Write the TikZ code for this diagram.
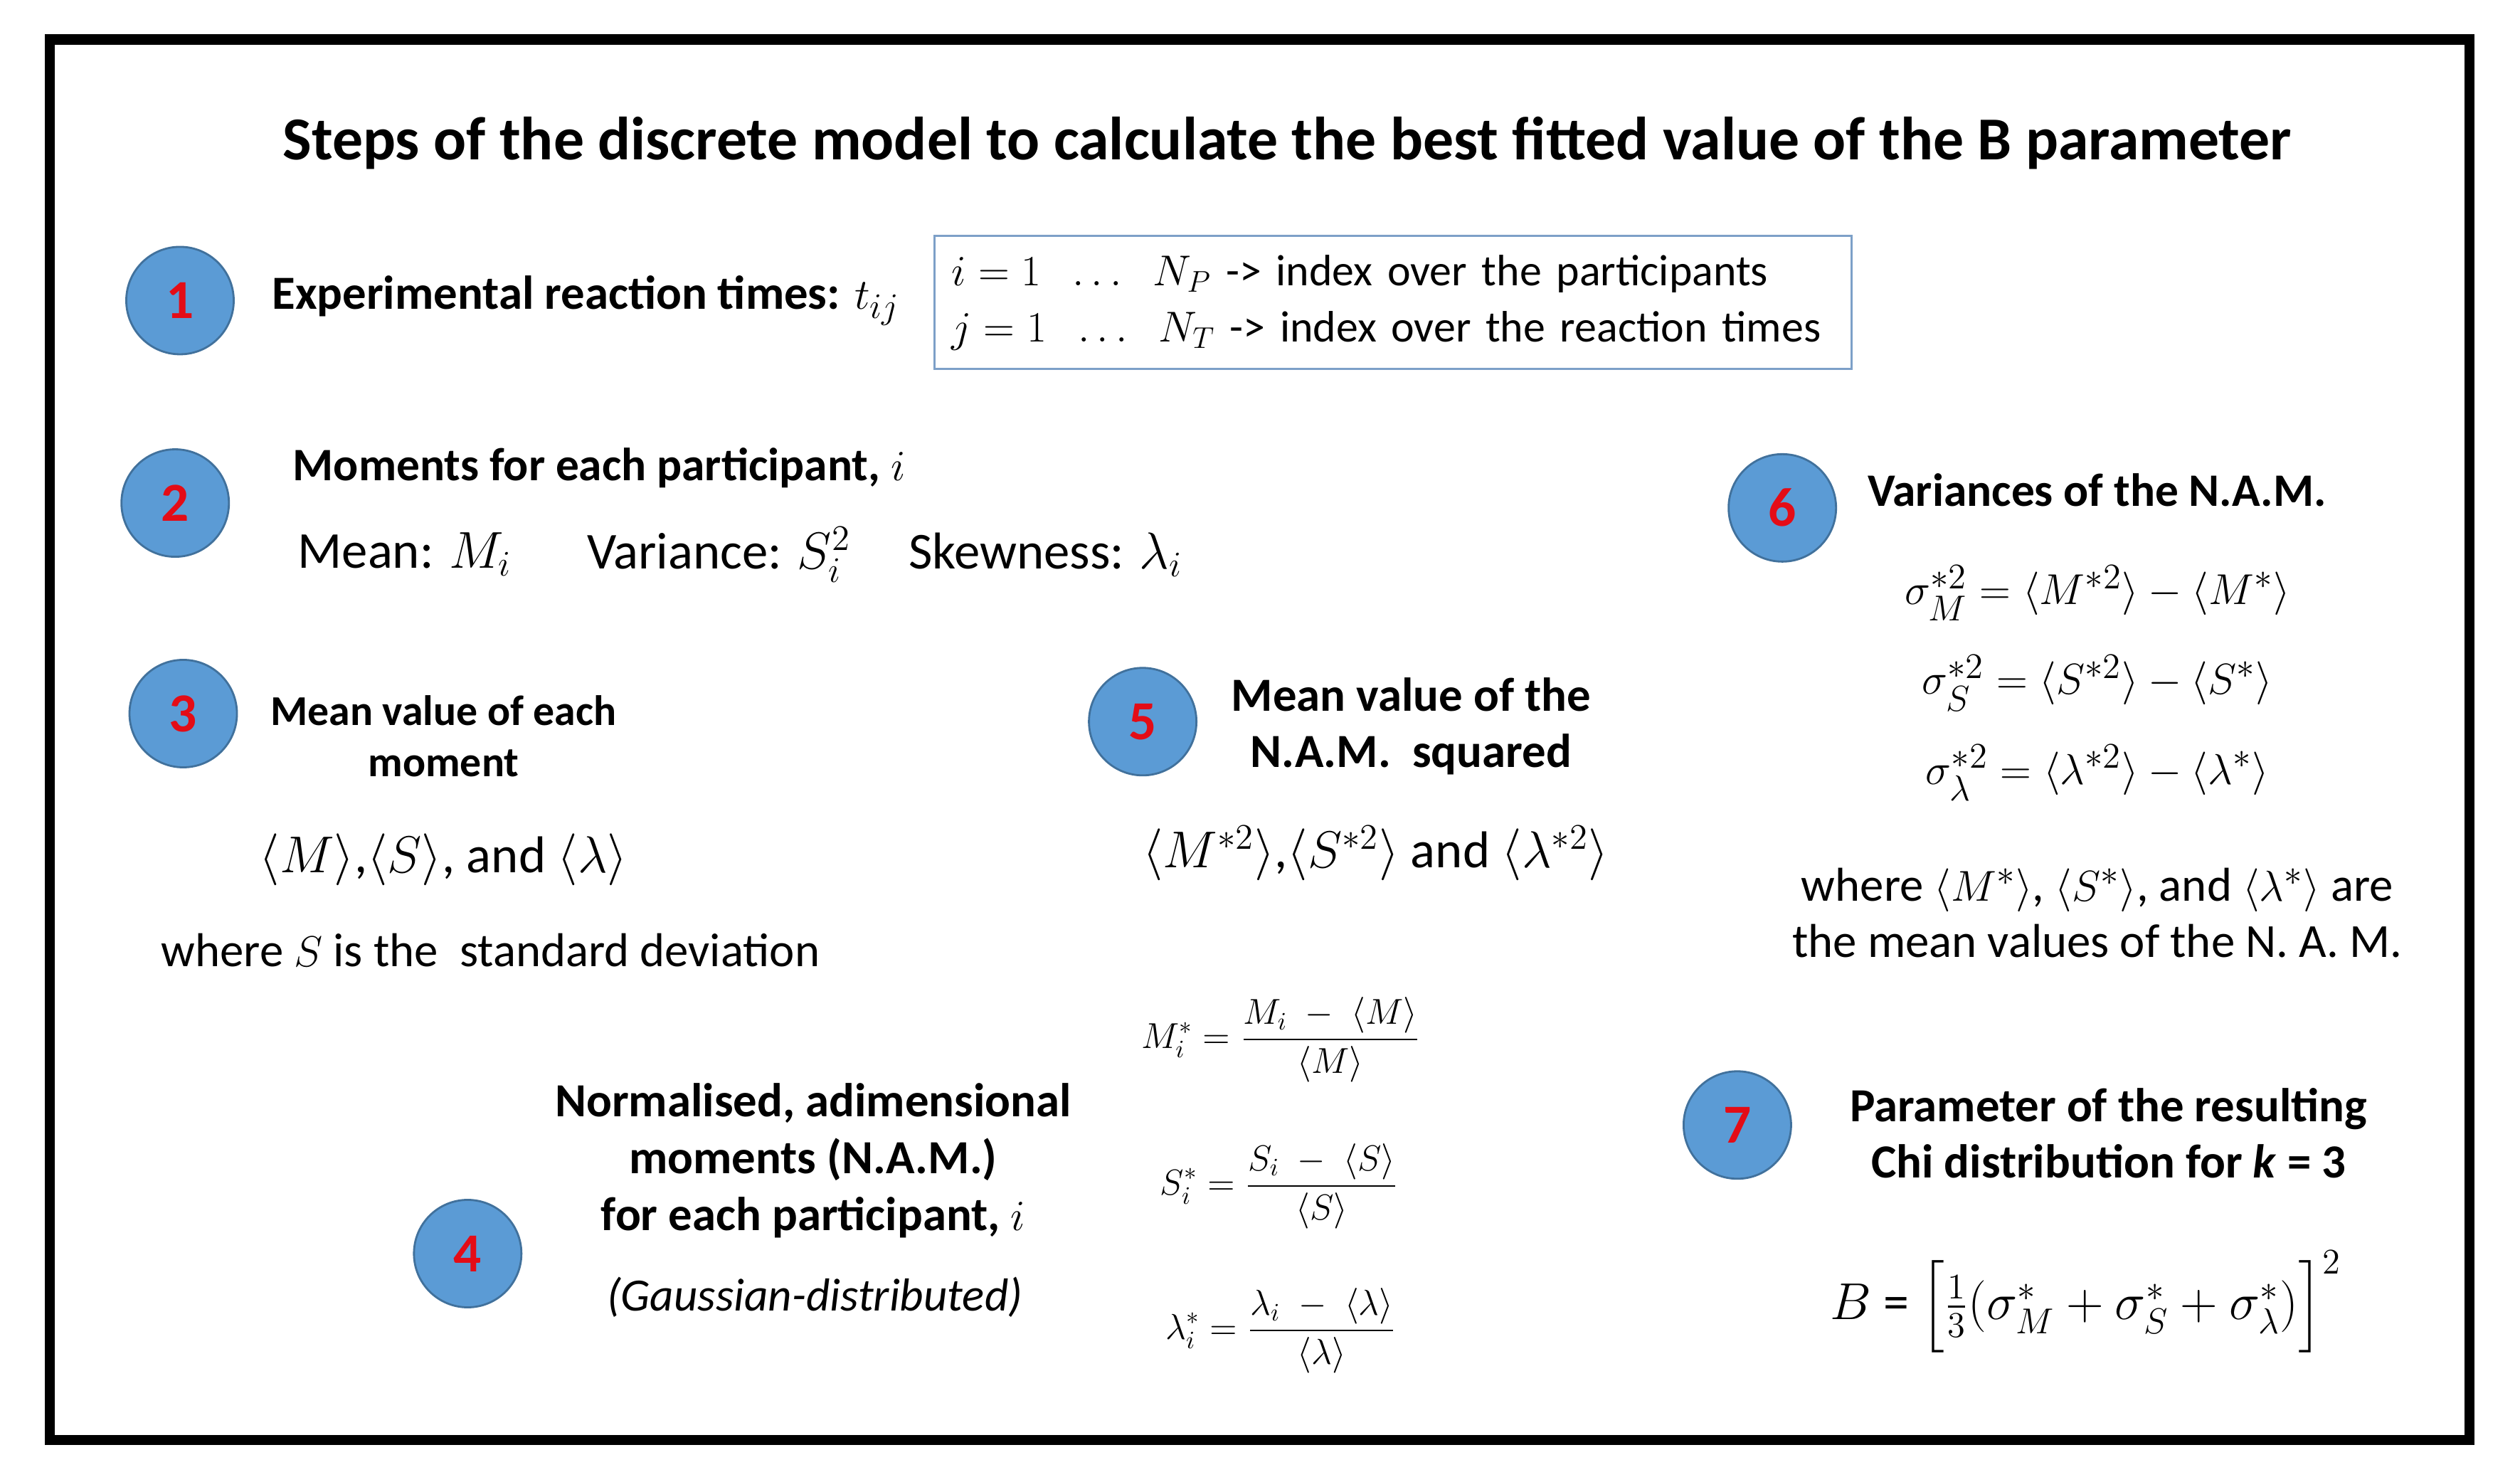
\documentclass[tikz,border=0pt]{standalone}
\usepackage{amsmath, amssymb}
\usepackage[no-math]{fontspec}
\setmainfont{Carlito}
\usepackage{tikz}

\definecolor{numfill}{RGB}{91,155,213}
\definecolor{numedge}{RGB}{65,113,156}
\definecolor{numred}{RGB}{228,12,22}
\definecolor{boxedge}{RGB}{125,160,200}

\newcommand{\fs}[2]{\fontsize{#1}{#2}\selectfont}

\tikzset{
	stepnum/.style={circle, fill=numfill, draw=numedge, line width=0.8pt, minimum size=1.51cm, inner sep=0pt, text=numred, font=\fs{22}{26}\bfseries},
	head/.style={inner sep=0pt, align=center, font=\fs{18.6}{22.5}\bfseries},
	body/.style={inner sep=0pt, align=center, font=\fs{19}{22.5}},
}

\begin{document}
\begin{tikzpicture}[x=0.02259cm, y=-0.02259cm]
		\useasboundingbox (0,0) rectangle (1568,919);
		\draw[line width=4.2pt] (31,24.5) rectangle (1536.5,896);
		\node[inner sep=0pt, font=\fs{24.4}{28}\bfseries] (title) at (801,89) {Steps of the discrete model to calculate the best fitted value of the B parameter};

		\node[stepnum] (n1) at (112,187) {1};
		\node[head, anchor=west, font=\fs{19}{22.5}\bfseries] (h1) at (169,187) {Experimental reaction times: $t_{ij}$};
		\node[draw=boxedge, line width=0.8pt, anchor=north west, minimum width=12.88cm, minimum height=1.875cm, inner xsep=0.24cm, text width=12.4cm, align=left, font=\fs{17.6}{22.5}] (idx) at (581,146) {$i = 1\;\;\ldots\;\;N_P$ -> index over the participants\\ $j = 1\;\;\ldots\;\;N_T$ -> index over the reaction times};

		\node[stepnum] (n2) at (109,313) {2};
		\node[head, anchor=west] (h2) at (182,291) {Moments for each participant, $i$};
		\node[body, anchor=west, font=\fs{20.7}{24}] (mean) at (185,345) {Mean: $M_i$};
		\node[body, anchor=west, font=\fs{20.7}{24}] (var) at (365,345) {Variance: $S_i^2$};
		\node[body, anchor=west, font=\fs{20.7}{24}] (skew) at (565,345) {Skewness: $\lambda_i$};

		\node[stepnum] (n3) at (114,444) {3};
		\node[head, font=\fs{17}{20.6}\bfseries] (h3) at (276,458) {Mean value of each\\ moment};
		\node[body, font=\fs{20.7}{24}] (avg) at (276,535) {$\langle M\rangle$,$\langle S\rangle$, and $\langle \lambda\rangle$};
		\node[body, anchor=west, font=\fs{19}{22}] (sdev) at (100,591) {where $S$ is the\ \ standard deviation};

		\node[stepnum] (n4) at (291,780) {4};
		\node[head, font=\fs{19}{22.8}\bfseries] (h4) at (506,722) {Normalised, adimensional\\ moments (N.A.M.)\\ for each participant, $i$};
		\node[body, font=\fs{18.5}{22}\itshape] (gauss) at (507,807) {(Gaussian-distributed)};
		\node[body, font=\fs{14}{16}] (mnorm) at (797,647) {$\displaystyle M_i^{*} = \frac{M_i \;-\; \langle M\rangle}{\langle M\rangle}$};
		\node[body, font=\fs{14}{16}] (snorm) at (796,738) {$\displaystyle S_i^{*} = \frac{S_i \;-\; \langle S\rangle}{\langle S\rangle}$};
		\node[body, font=\fs{14}{16}] (lnorm) at (797,828) {$\displaystyle \lambda_i^{*} = \frac{\lambda_i \;-\; \langle \lambda\rangle}{\langle \lambda\rangle}$};

		\node[stepnum] (n5) at (711,449) {5};
		\node[head, font=\fs{19}{22.5}\bfseries] (h5) at (878,452) {Mean value of the\\ N.A.M.\ \ squared};
		\node[body, font=\fs{20.7}{24}] (sqmean) at (856,531) {$\langle M^{*2}\rangle$,$\langle S^{*2}\rangle$ and $\langle \lambda^{*2}\rangle$};

		\node[stepnum] (n6) at (1109,316) {6};
		\node[head, anchor=west] (h6) at (1162,305) {Variances of the N.A.M.};
		\node[body] (sigm) at (1305,369) {$\sigma_M^{*2} = \langle M^{*2}\rangle - \langle M^{*}\rangle$};
		\node[body] (sigs) at (1305,425) {$\sigma_S^{*2} = \langle S^{*2}\rangle - \langle S^{*}\rangle$};
		\node[body] (sigl) at (1305,481) {$\sigma_\lambda^{*2} = \langle \lambda^{*2}\rangle - \langle \lambda^{*}\rangle$};
		\node[body] (nammean) at (1305,568) {where $\langle M^{*}\rangle$, $\langle S^{*}\rangle$, and $\langle \lambda^{*}\rangle$ are\\ the mean values of the N.\ A.\ M.};

		\node[stepnum] (n7) at (1081,700) {7};
		\node[head, font=\fs{19}{22.5}\bfseries] (h7) at (1312,705) {Parameter of the resulting\\ Chi distribution for \textit{k} = 3};
		\node[body, font=\fs{20.5}{24}] (bpar) at (1298,810) {$B$ = $\Big[\frac{1}{3}(\sigma_M^{*} + \sigma_S^{*} + \sigma_\lambda^{*})\Big]^2$};
\end{tikzpicture}
\end{document}
